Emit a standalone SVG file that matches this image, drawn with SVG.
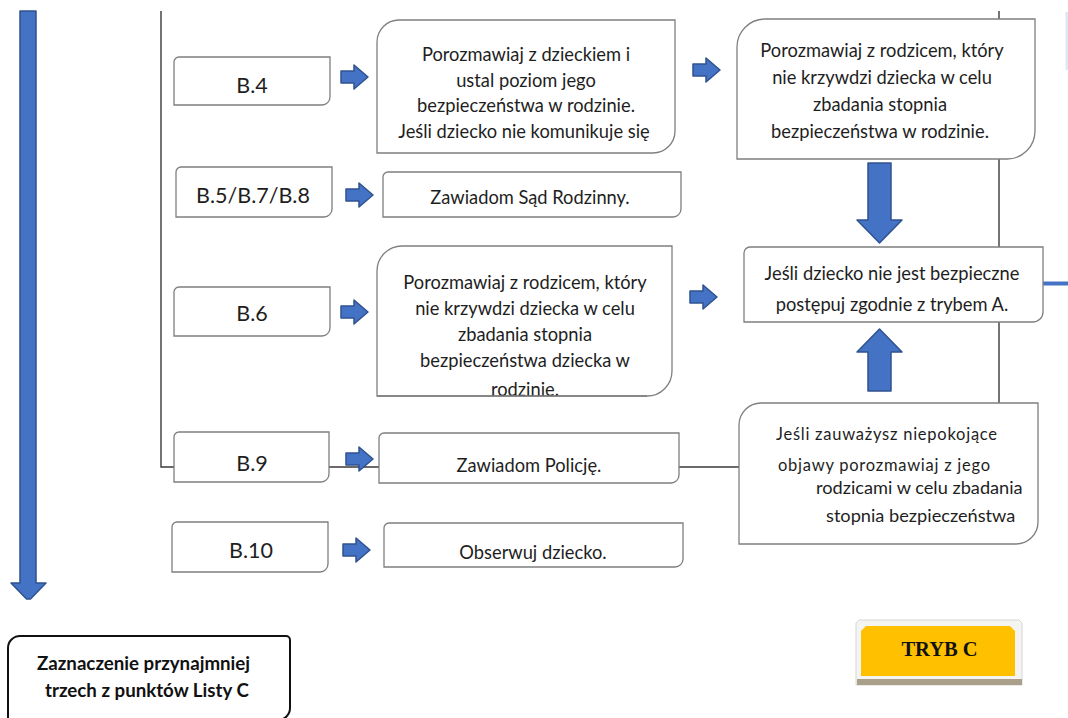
<svg xmlns="http://www.w3.org/2000/svg" width="1068" height="718" viewBox="0 0 1068 718">
<style>
.bx{fill:#ffffff;stroke:#7f7f7f;stroke-width:1.3}
.ln{fill:none;stroke:#3a3a3a;stroke-width:1.4}
.ba{fill:#4472c4;stroke:#2f528f;stroke-width:1.5;stroke-linejoin:round}
.t{font-family:Lato,"Noto Sans","Liberation Sans",sans-serif;font-size:18.3px;fill:#1e1e1e;text-anchor:middle}
.lb{font-family:Lato,"Noto Sans","Liberation Sans",sans-serif;font-size:21.5px;fill:#1e1e1e;text-anchor:middle}
.ts{font-family:Lato,"Noto Sans","Liberation Sans",sans-serif;font-size:18.2px;fill:#1e1e1e}
.tsp{font-family:Lato,"Noto Sans","Liberation Sans",sans-serif;font-size:16.5px;letter-spacing:0.75px;fill:#1e1e1e}
.tb{font-family:Lato,"Noto Sans","Liberation Sans",sans-serif;font-size:18.7px;font-weight:bold;fill:#111}
</style>
<defs>
<path id="sa" d="M0,-6 H13 V-12 L27,0 L13,12 V6 H0 Z"/>
</defs>
<rect width="1068" height="718" fill="#ffffff"/>

<g id="connectors">
<path class="ln" d="M161,11 V467 H379"/>
<path class="ln" d="M679,467 H739"/>
<path class="ln" d="M999,11 V403"/>
<path d="M1043,283.5 H1068" stroke="#4472c4" stroke-width="4" fill="none"/>
<rect x="1065.5" y="12" width="2.5" height="58" fill="#dfe7f4"/>
<path class="ba" d="M20,11 H36 V583 H46 L30.5,599 H26.5 L11,583 H20 Z"/>
<use href="#sa" class="ba" x="341" y="77"/>
<use href="#sa" class="ba" x="693" y="70"/>
<use href="#sa" class="ba" x="346" y="195"/>
<use href="#sa" class="ba" x="341" y="312"/>
<use href="#sa" class="ba" x="690" y="297"/>
<use href="#sa" class="ba" x="346" y="459"/>
<use href="#sa" class="ba" x="343" y="550"/>
<path class="ba" d="M868,163 H891 V220 H902 L879.5,243 L857,220 H868 Z"/>
<path class="ba" d="M879.5,329 L902,352 H891 V391 H868 V352 H857 Z"/>
</g>

<g id="b4">
<path class="bx" d="M174,62 A5,5 0 0 1 179,57 H330 V97 A8,8 0 0 1 322,105 H174 Z"/>
<text class="lb" x="252" y="93">B.4</text>
</g>
<g id="b578">
<path class="bx" d="M176,172 A5,5 0 0 1 181,167 H332 V209 A8,8 0 0 1 324,217 H176 Z"/>
<text class="lb" x="253" y="203">B.5/B.7/B.8</text>
</g>
<g id="b6">
<path class="bx" d="M174,292 A5,5 0 0 1 179,287 H330 V328 A8,8 0 0 1 322,336 H174 Z"/>
<text class="lb" x="252" y="321">B.6</text>
</g>
<g id="b9">
<path class="bx" d="M174,437 A5,5 0 0 1 179,432 H329 V474 A8,8 0 0 1 321,482 H174 Z"/>
<text class="lb" x="252" y="471">B.9</text>
</g>
<g id="b10">
<path class="bx" d="M172,527 A5,5 0 0 1 177,522 H328 V564 A8,8 0 0 1 320,572 H172 Z"/>
<text class="lb" x="251" y="558">B.10</text>
</g>

<g id="talk-child">
<path class="bx" d="M377,42 A22,22 0 0 1 399,20 H675 V131 A22,22 0 0 1 653,153 H377 Z"/>
<text class="t" x="526" y="61">Porozmawiaj z dzieckiem i</text>
<text class="t" x="526" y="87">ustal poziom jego</text>
<text class="t" x="526" y="112">bezpieczeństwa w rodzinie.</text>
<text class="t" x="524" y="138">Jeśli dziecko nie komunikuje się</text>
</g>
<g id="talk-parent-top">
<path class="bx" d="M737,47 A28,28 0 0 1 765,19 H1035 V131 A28,28 0 0 1 1007,159 H737 Z"/>
<text class="t" x="882" y="57">Porozmawiaj z rodzicem, który</text>
<text class="t" x="882" y="84">nie krzywdzi dziecka w celu</text>
<text class="t" x="880" y="111">zbadania stopnia</text>
<text class="t" x="880" y="138">bezpieczeństwa w rodzinie.</text>
</g>
<g id="court">
<path class="bx" d="M383,177 A5,5 0 0 1 388,172 H681 V209 A8,8 0 0 1 673,217 H383 Z"/>
<text class="t" x="530" y="204">Zawiadom Sąd Rodzinny.</text>
</g>
<g id="not-safe">
<path class="bx" d="M744,253 A6,6 0 0 1 750,247 H1043 V312 A10,10 0 0 1 1033,322 H744 Z"/>
<text class="t" x="892" y="280">Jeśli dziecko nie jest bezpieczne</text>
<text class="t" x="892" y="311">postępuj zgodnie z trybem A.</text>
</g>
<g id="talk-parent-b6">
<path class="bx" d="M377,271 A25,25 0 0 1 402,246 H672 V371 A25,25 0 0 1 647,396 H377 Z"/>
<text class="t" x="525" y="289">Porozmawiaj z rodzicem, który</text>
<text class="t" x="525" y="315">nie krzywdzi dziecka w celu</text>
<text class="t" x="525" y="341">zbadania stopnia</text>
<text class="t" x="525" y="367">bezpieczeństwa dziecka w</text>
<text class="t" x="525" y="396">rodzinie.</text>
<path d="M377,396 H647" stroke="#7f7f7f" stroke-width="1.3"/>
</g>
<g id="police">
<path class="bx" d="M379,438 A5,5 0 0 1 384,433 H679 V475 A8,8 0 0 1 671,483 H379 Z"/>
<text class="t" x="529" y="472">Zawiadom Policję.</text>
</g>
<g id="observe">
<path class="bx" d="M384,528 A5,5 0 0 1 389,523 H683 V559 A8,8 0 0 1 675,567 H384 Z"/>
<text class="t" x="533" y="559">Obserwuj dziecko.</text>
</g>
<g id="symptoms">
<path class="bx" d="M739,425 A22,22 0 0 1 761,403 H1038 V522 A22,22 0 0 1 1016,544 H739 Z"/>
<text class="tsp" x="776" y="440">Jeśli zauważysz niepokojące</text>
<text class="tsp" x="778" y="471">objawy porozmawiaj z jego</text>
<text class="ts" x="816" y="494">rodzicami w celu zbadania</text>
<text class="ts" x="826" y="522">stopnia bezpieczeństwa</text>
</g>
<g id="list-c">
<path d="M8,648 A12,12 0 0 1 20,636 H286 A4,4 0 0 1 290,640 V708 A12,12 0 0 1 278,720 H8 Z" fill="#ffffff" stroke="#111" stroke-width="2"/>
<text class="tb" x="37" y="670">Zaznaczenie przynajmniej</text>
<text class="tb" x="45" y="697">trzech z punktów Listy C</text>
</g>
<g id="tryb-c">
<path d="M859,620 H1019 L1022,623 V685 H856 V623 Z" fill="#f4f4f2" stroke="#d6d6d2" stroke-width="1"/>
<rect x="857" y="679" width="165" height="6" fill="#a99f8a"/>
<path d="M866,626 H1010 L1015,631 V676 H861 V631 Z" fill="#ffc000"/>
<text x="939.5" y="656" font-family="'Liberation Serif','Times New Roman',serif" font-weight="bold" font-size="20.5" text-anchor="middle" fill="#111">TRYB C</text>
</g>
</svg>
